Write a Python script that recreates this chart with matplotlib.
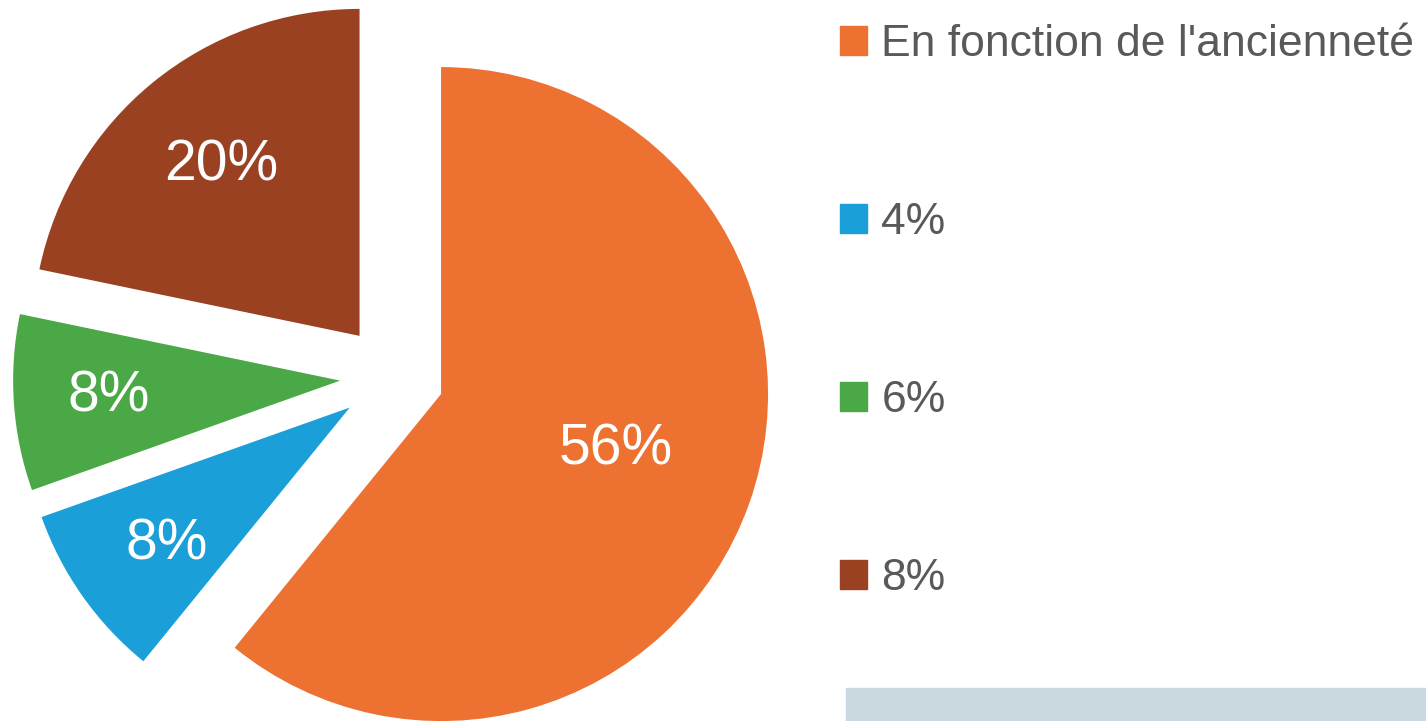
import matplotlib
matplotlib.use("Agg")
import matplotlib.pyplot as plt
import matplotlib.patches as mpatches
import numpy as np

# Data
slice_values = [56, 8, 8, 20]
slice_labels = ["56%", "8%", "8%", "20%"]
legend_labels = ["En fonction de l'ancienneté", "4%", "6%", "8%"]
colors = ["#ED7131", "#1A9FD9", "#4BA846", "#9A4122"]

plt.rcParams['font.family'] = ['Liberation Sans', 'DejaVu Sans']

W, H = 1426, 721
fig = plt.figure(figsize=(W / 100, H / 100), dpi=100)
ax = fig.add_axes([0, 0, 1, 1])

R = 327
cx, cy = 393, H - 377
explode = [51, 53, 53, 53]  # offset in data (pixel) units

wedges, _ = ax.pie(slice_values, colors=colors, startangle=90, counterclock=False,
                   explode=explode, radius=R, center=(cx, cy),
                   wedgeprops=dict(linewidth=0))
ax.set_xlim(0, W)
ax.set_ylim(0, H)
ax.set_aspect('equal')
ax.axis('off')

label_dist = [0.56, 0.70, 0.71, 0.67]
label_rot = [2, 1.5, 0, 0]  # small angular nudges in degrees
for w, lab, d, r in zip(wedges, slice_labels, label_dist, label_rot):
    ang = np.deg2rad((w.theta1 + w.theta2) / 2 + r)
    x = w.center[0] + d * R * np.cos(ang)
    y = w.center[1] + d * R * np.sin(ang)
    ax.text(x, y, lab, ha='center', va='center', color='white', fontsize=41)

handles = [mpatches.Patch(color=c) for c in colors]
leg = fig.legend(handles, legend_labels, loc='upper left',
                 bbox_to_anchor=(840 / W, 1 - 24 / H), frameon=False,
                 fontsize=32, labelcolor='#595959', handlelength=0.61,
                 handleheight=0.61, handletextpad=0.32, labelspacing=3.085,
                 borderpad=0, borderaxespad=0)

fig.patches.append(mpatches.Rectangle((846 / W, 0), (W - 846) / W, 33 / H,
                                      transform=fig.transFigure,
                                      color='#CAD9DF', zorder=0))

fig.savefig("out.png", dpi=100)
